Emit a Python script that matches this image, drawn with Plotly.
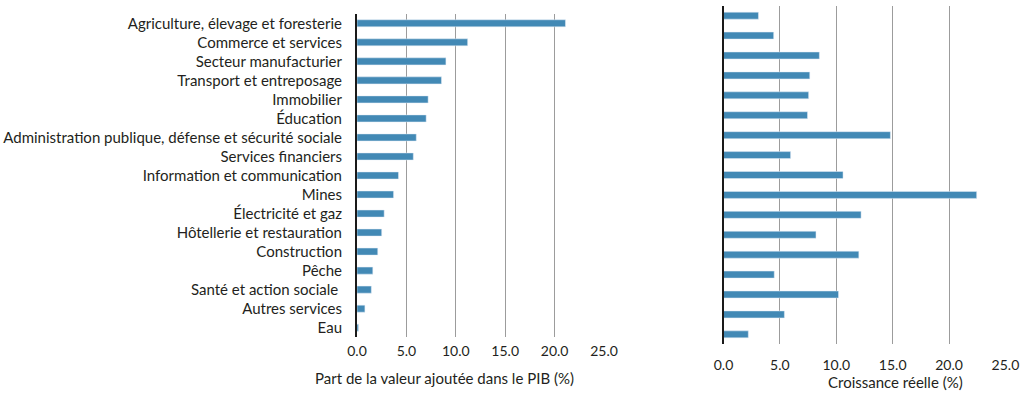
import plotly.graph_objects as go

# Sectors, listed top to bottom
sectors = [
    "Agriculture, élevage et foresterie",
    "Commerce et services",
    "Secteur manufacturier",
    "Transport et entreposage",
    "Immobilier",
    "Éducation",
    "Administration publique, défense et sécurité sociale",
    "Services financiers",
    "Information et communication",
    "Mines",
    "Électricité et gaz",
    "Hôtellerie et restauration",
    "Construction",
    "Pêche",
    "Santé et action sociale ",
    "Autres services",
    "Eau",
]

# Share of value added in GDP (%)
share_gdp = [21.1, 11.2, 9.0, 8.55, 7.2, 7.0, 6.0, 5.7, 4.2, 3.7,
             2.75, 2.5, 2.1, 1.6, 1.45, 0.8, 0.15]

# Real growth (%)
real_growth = [3.1, 4.45, 8.5, 7.65, 7.55, 7.45, 14.8, 5.95, 10.6, 22.45,
               12.2, 8.2, 12.0, 4.5, 10.2, 5.4, 2.2]

tick_vals = [0, 5, 10, 15, 20, 25]
tick_text = ["0.0", "5.0", "10.0", "15.0", "20.0", "25.0"]

BAR = "#4289b5"
TXT = "#231f20"
GRID = "#9c9c9c"
FONT = "Lato"

fig = go.Figure()
fig.add_trace(go.Bar(x=share_gdp, y=sectors, orientation="h", marker_color=BAR,
                     xaxis="x", yaxis="y", width=0.37))
fig.add_trace(go.Bar(x=real_growth, y=sectors, orientation="h", marker_color=BAR,
                     xaxis="x2", yaxis="y2", width=0.35))

W, H = 1030, 394

def px_x(v):
    return v / W

def px_y(v):
    return 1 - v / H

xcommon = dict(range=[0, 25.05], tickvals=tick_vals, ticktext=tick_text,
               showgrid=True, gridcolor=GRID, gridwidth=1.3, zeroline=False,
               showline=False, ticks="", automargin=False,
               tickfont=dict(family=FONT, size=14, color=TXT))

fig.update_layout(
    width=W, height=H,
    margin=dict(l=0, r=0, t=0, b=0),
    paper_bgcolor="white", plot_bgcolor="white",
    showlegend=False,
    font=dict(family=FONT, size=15, color=TXT),
    xaxis=dict(domain=[px_x(357), px_x(604.5)], anchor="y", ticklabelstandoff=4, **xcommon),
    xaxis2=dict(domain=[px_x(723.5), px_x(1006)], anchor="y2", ticklabelstandoff=11, **xcommon),
    yaxis=dict(domain=[px_y(337.2), px_y(13.8)], anchor="x", autorange="reversed",
               showline=True, linecolor="#1a1a1a", linewidth=2, ticks="",
               showgrid=False, ticklabelstandoff=10, automargin=False,
               tickfont=dict(family=FONT, size=15, color=TXT)),
    yaxis2=dict(domain=[px_y(344.3), px_y(5.7)], anchor="x2", autorange="reversed",
                showline=True, linecolor="#1a1a1a", linewidth=2, ticks="",
                showgrid=False, showticklabels=False, automargin=False),
    annotations=[
        dict(text="Part de la valeur ajoutée dans le PIB (%)", xref="paper", yref="paper",
             x=px_x(444.7), y=px_y(377.5), showarrow=False, xanchor="center", yanchor="middle",
             font=dict(family=FONT, size=15, color=TXT)),
        dict(text="Croissance réelle (%)", xref="paper", yref="paper",
             x=px_x(895.5), y=px_y(382.3), showarrow=False, xanchor="center", yanchor="middle",
             font=dict(family=FONT, size=15, color=TXT)),
    ],
)

fig.write_html("out.html")
